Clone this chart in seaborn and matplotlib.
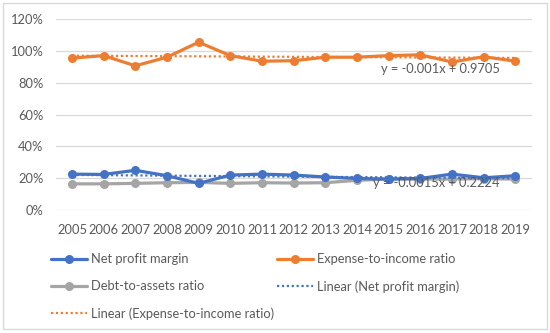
import matplotlib
matplotlib.use("Agg")
import matplotlib.pyplot as plt
import seaborn as sns
import pandas as pd
import numpy as np
from matplotlib.patches import Rectangle
from matplotlib.lines import Line2D
from matplotlib.ticker import PercentFormatter

# data
years = list(range(2005, 2020))
net_profit = [22.6, 22.4, 25.0, 21.6, 16.8, 22.0, 22.6, 22.0, 20.8, 19.9, 19.5, 19.9, 22.6, 20.3, 21.6]
expense_income = [95.4, 97.0, 90.6, 96.0, 105.4, 97.0, 93.5, 93.8, 96.0, 96.0, 97.0, 97.5, 93.0, 96.3, 93.5]
debt_assets = [16.5, 16.5, 16.8, 17.2, 17.4, 16.8, 17.2, 17.0, 17.2, 18.7, 19.5, 19.5, 19.5, 19.7, 19.5]

# trendline coefficients (Excel style, x = 1..n)
trend_expense = (-0.001, 0.9705)
trend_net = (-0.0015, 0.2224)
eq_expense = "y = -0.001x + 0.9705"
eq_net = "y = -0.0015x + 0.2224"

BLUE = "#4472C4"
ORANGE = "#ED7D31"
GREY = "#A5A5A5"
TEXT = "#595959"

sns.set_style("white")
plt.rcParams['font.family'] = ['Lato', 'DejaVu Sans']

df = pd.DataFrame({
    "year": years,
    "Net profit margin": net_profit,
    "Expense-to-income ratio": expense_income,
    "Debt-to-assets ratio": debt_assets,
})
idx = np.arange(1, len(years) + 1)
df["lin_net"] = (trend_net[0] * idx + trend_net[1]) * 100
df["lin_exp"] = (trend_expense[0] * idx + trend_expense[1]) * 100

fig = plt.figure(figsize=(5.5, 3.33), dpi=100)
ax = fig.add_axes([0.102, 0.369, 0.865, 0.574])

fs = 9.3
lw = 2.3
ms = 6.5

for col, c in [("Expense-to-income ratio", ORANGE), ("Net profit margin", BLUE)]:
    sns.lineplot(data=df, x="year", y=col, ax=ax, color=c, linewidth=lw,
                 marker="o", markersize=ms, markeredgewidth=0, zorder=3)
sns.lineplot(data=df, x="year", y="Debt-to-assets ratio", ax=ax, color=GREY,
             linewidth=lw, marker="o", markersize=ms, markeredgewidth=0, zorder=2)
sns.lineplot(data=df, x="year", y="lin_exp", ax=ax, color=ORANGE, linewidth=1.6,
             linestyle=(0, (1, 1.2)), zorder=4)
sns.lineplot(data=df, x="year", y="lin_net", ax=ax, color=BLUE, linewidth=1.6,
             linestyle=(0, (1, 1.2)), zorder=4)

ax.set_xlim(2004.5, 2019.52)
ax.set_ylim(0, 120)
ax.set_yticks(range(0, 121, 20))
ax.yaxis.set_major_formatter(PercentFormatter(decimals=0))
ax.set_xticks(years)
ax.set_xlabel("")
ax.set_ylabel("")
ax.grid(axis="y", color="#D9D9D9", linewidth=0.9)
ax.set_axisbelow(True)
for s in ax.spines.values():
    s.set_visible(False)
ax.tick_params(axis="both", length=0, labelsize=fs, colors=TEXT)
ax.tick_params(axis="x", pad=10)
ax.tick_params(axis="y", pad=9)

ax.text(2018.5, 88.5, eq_expense, fontsize=fs, color=TEXT, ha="right", va="center")
ax.text(2018.5, 17.0, eq_net, fontsize=fs, color=TEXT, ha="right", va="center", zorder=5)

handles = [
    Line2D([], [], color=BLUE, lw=lw, marker="o", ms=ms, mew=0),
    Line2D([], [], color=GREY, lw=lw, marker="o", ms=ms, mew=0),
    Line2D([], [], color=ORANGE, lw=1.6, ls=(0, (1, 1.2))),
    Line2D([], [], color=ORANGE, lw=lw, marker="o", ms=ms, mew=0),
    Line2D([], [], color=BLUE, lw=1.6, ls=(0, (1, 1.2))),
]
labels = ["Net profit margin", "Debt-to-assets ratio", "Linear (Expense-to-income ratio)",
          "Expense-to-income ratio", "Linear (Net profit margin)"]
fig.legend(handles, labels, loc="upper left", bbox_to_anchor=(0.083, 0.255), ncol=2,
           frameon=False, fontsize=fs, labelcolor=TEXT, handlelength=2.8,
           handletextpad=0.3, columnspacing=0.2, labelspacing=1.15, borderaxespad=0)

fig.patches.append(Rectangle((0.006, 0.012), 0.988, 0.978, transform=fig.transFigure,
                             fill=False, edgecolor="#D9D9D9", linewidth=1.0))

fig.savefig("out.png", dpi=100)
